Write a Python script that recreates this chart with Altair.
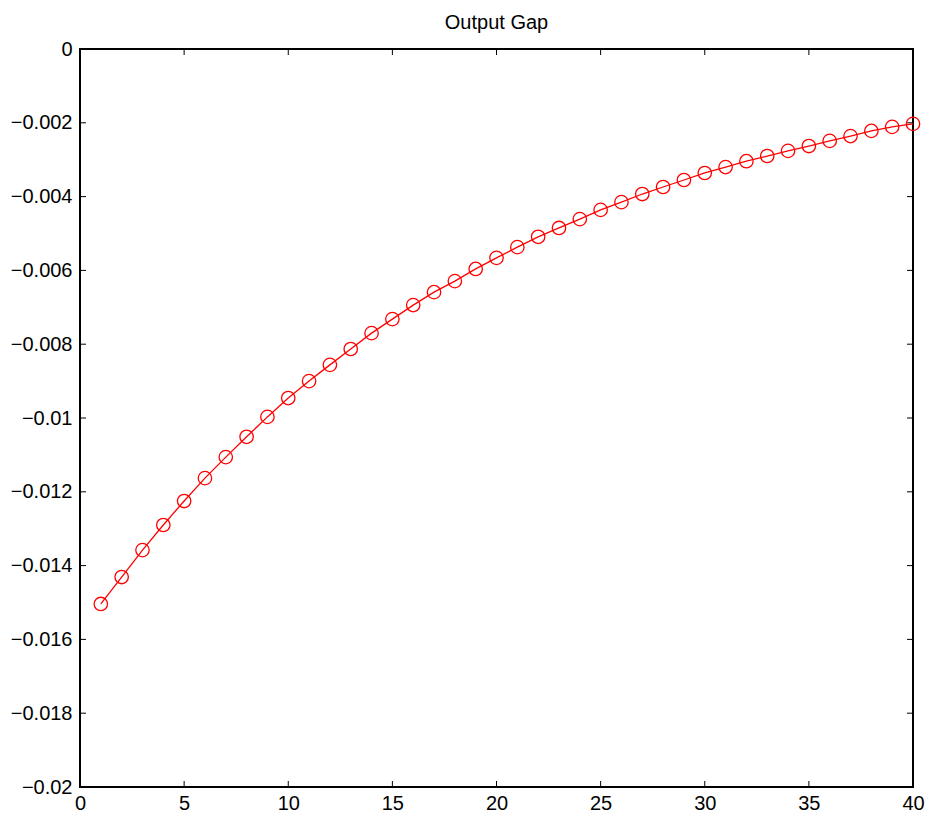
import altair as alt
import pandas as pd

periods = list(range(1, 41))
output_gap = [
    -0.01504, -0.01431, -0.01358, -0.01290, -0.01225, -0.01163, -0.01106, -0.01051,
    -0.00997, -0.00946, -0.00900, -0.00856, -0.00813, -0.00770, -0.00732, -0.00694,
    -0.00659, -0.00629, -0.00596, -0.00566, -0.00537, -0.00509, -0.00485, -0.00461,
    -0.00436, -0.00415, -0.00393, -0.00374, -0.00355, -0.00336, -0.00320, -0.00304,
    -0.00290, -0.00276, -0.00263, -0.00249, -0.00236, -0.00222, -0.00211, -0.00203,
]
x_ticks = [0, 5, 10, 15, 20, 25, 30, 35, 40]
y_ticks = [0, -0.002, -0.004, -0.006, -0.008, -0.01, -0.012, -0.014, -0.016, -0.018, -0.02]

W, H = 833, 738
FONT = "Liberation Sans"

df = pd.DataFrame({"t": periods, "gap": output_gap})
xt = pd.DataFrame({"x": x_ticks})
yt = pd.DataFrame({"y": y_ticks})

xscale = alt.Scale(domain=[0, 40], nice=False, zero=False)
yscale = alt.Scale(domain=[-0.02, 0], nice=False, zero=False)

xaxis = alt.Axis(values=x_ticks, ticks=False, domain=False, grid=False, title=None,
                 labelFont=FONT, labelFontSize=20, labelColor="black", labelPadding=6,
                 labelFlush=False, labelOverlap=False)
yaxis = alt.Axis(values=y_ticks, ticks=False, domain=False, grid=False, title=None,
                 labelFont=FONT, labelFontSize=20, labelColor="black", labelPadding=8,
                 format="~g", labelFlush=False, labelOverlap=False)

line = alt.Chart(df).mark_line(color="#ff0000", strokeWidth=1.3).encode(
    x=alt.X("t:Q", scale=xscale, axis=xaxis),
    y=alt.Y("gap:Q", scale=yscale, axis=yaxis),
)
pts = alt.Chart(df).mark_point(shape="circle", filled=False, color="#ff0000",
                               size=180, strokeWidth=1.3, opacity=1).encode(
    x=alt.X("t:Q", scale=xscale),
    y=alt.Y("gap:Q", scale=yscale),
)

tick_len = 6
left_ticks = alt.Chart(yt).mark_rule(color="black", strokeWidth=1).encode(
    y=alt.Y("y:Q", scale=yscale), x=alt.value(0), x2=alt.value(tick_len))
right_ticks = alt.Chart(yt).mark_rule(color="black", strokeWidth=1).encode(
    y=alt.Y("y:Q", scale=yscale), x=alt.value(W - tick_len), x2=alt.value(W))
bottom_ticks = alt.Chart(xt).mark_rule(color="black", strokeWidth=1).encode(
    x=alt.X("x:Q", scale=xscale), y=alt.value(H - tick_len), y2=alt.value(H))
top_ticks = alt.Chart(xt).mark_rule(color="black", strokeWidth=1).encode(
    x=alt.X("x:Q", scale=xscale), y=alt.value(0), y2=alt.value(tick_len))

chart = alt.layer(left_ticks, right_ticks, bottom_ticks, top_ticks, line, pts).properties(
    width=W, height=H,
    title=alt.TitleParams("Output Gap", font=FONT, fontSize=20, fontWeight="normal",
                          color="black", anchor="middle", offset=6),
    autosize=alt.AutoSizeParams(type="none"),
    padding={"left": 72, "top": 41, "right": 13, "bottom": 25},
).configure(background="white").configure_view(stroke="black", strokeWidth=2)

chart.save("out.html", embed_options={"renderer": "svg", "actions": False})
